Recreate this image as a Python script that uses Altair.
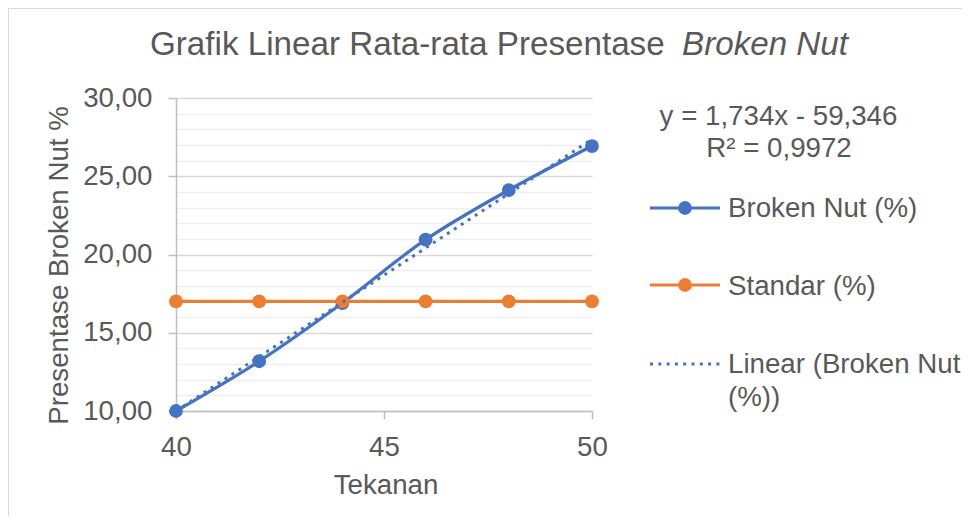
import altair as alt
import pandas as pd

# ---------------- data ----------------
tekanan = [40, 42, 44, 46, 48, 50]
broken_nut = [10.00, 13.18, 16.90, 20.95, 24.12, 26.93]
standar = [17.00, 17.00, 17.00, 17.00, 17.00, 17.00]
series_names = ["Broken Nut (%)", "Standar (%)", "Linear (Broken Nut", "(%))"]
x_ticks = [40, 45, 50]
y_ticks = list(range(10, 31))
title_main = "Grafik Linear Rata-rata Presentase"
title_italic = "Broken Nut"
x_title = "Tekanan"
y_title = "Presentase Broken Nut %"
eq_lines = ["y = 1,734x - 59,346", "R² = 0,9972"]

# ---------------- style ----------------
BLUE = "#4472C4"
ORANGE = "#ED7D31"
TEXT = "#595959"
FONT = "Liberation Sans"
W, H = 416, 313
OX, OY = 176, 98  # page position of plot origin
FS = 27.7
DOTS = [3, 5.3]

df = pd.DataFrame({
    "Tekanan": tekanan * 2,
    "Nilai": broken_nut + standar,
    "Seri": [series_names[0]] * len(tekanan) + [series_names[1]] * len(tekanan),
})
df_blue = df[df["Seri"] == series_names[0]]

x_scale = alt.Scale(domain=[40, 50], nice=False, zero=False)
y_scale = alt.Scale(domain=[10, 30], nice=False, zero=False)
c_scale = alt.Scale(domain=series_names[:2], range=[BLUE, ORANGE])

major = "datum.value % 5 === 0"

x_axis = alt.Axis(
    values=x_ticks, grid=False, title=x_title, labelFlush=False,
    labelFont=FONT, labelFontSize=FS, labelColor=TEXT,
    labelBaseline="alphabetic", labelPadding=36,
    tickSize=8, tickColor="#bfbfbf", tickWidth=1.5,
    domainColor="#bfbfbf", domainWidth=1.5,
    titleFont=FONT, titleFontSize=FS, titleColor=TEXT, titleFontWeight="normal",
    titleX=209.5, titleY=82, titleAlign="center", titleBaseline="alphabetic",
)
y_axis = alt.Axis(
    values=y_ticks, title=y_title, labelOverlap=False,
    labelExpr="datum.value % 5 === 0 ? replace(format(datum.value, '.2f'), '.', ',') : ''",
    labelFont=FONT, labelFontSize=FS, labelColor=TEXT, labelPadding=16,
    gridColor={"condition": {"test": major, "value": "#d9d9d9"}, "value": "#efefef"},
    gridWidth=1.5,
    tickSize=8, tickWidth=1.5,
    tickColor={"condition": {"test": major, "value": "#bfbfbf"}, "value": "transparent"},
    domainColor="#bfbfbf", domainWidth=1.5,
    titleFont=FONT, titleFontSize=FS, titleColor=TEXT, titleFontWeight="normal",
    titleAngle=-90, titleX=-109, titleY=167, titleAlign="center", titleBaseline="alphabetic",
)

X = alt.X("Tekanan:Q", scale=x_scale, axis=x_axis)
Y = alt.Y("Nilai:Q", scale=y_scale, axis=y_axis)
C = alt.Color("Seri:N", scale=c_scale, legend=None)

lines = alt.Chart(df).mark_line(strokeWidth=3.2, interpolate="catmull-rom").encode(
    x=X, y=Y, color=C, detail="Seri:N"
)
points = alt.Chart(df).mark_circle(size=190, opacity=1).encode(x=X, y=Y, color=C)
trend = alt.Chart(df_blue).transform_regression("Tekanan", "Nilai", method="linear").mark_line(
    color=BLUE, strokeWidth=3, strokeDash=DOTS
).encode(x=X, y=Y)


def txt(s, px, py, size=FS, align="left", style="normal"):
    return alt.Chart(pd.DataFrame({"t": [s]})).mark_text(
        align=align, baseline="alphabetic", fontSize=size, font=FONT,
        color=TEXT, fontStyle=style
    ).encode(x=alt.value(px - OX), y=alt.value(py - OY), text="t:N")


def hrule(x1, x2, py, color, width=3.2, dash=None):
    kw = dict(color=color, strokeWidth=width)
    if dash:
        kw["strokeDash"] = dash
    return alt.Chart(pd.DataFrame({"a": [0]})).mark_rule(**kw).encode(
        x=alt.value(x1 - OX), x2=alt.value(x2 - OX), y=alt.value(py - OY)
    )


def dot(px, py, color):
    return alt.Chart(pd.DataFrame({"a": [0]})).mark_circle(color=color, size=190, opacity=1).encode(
        x=alt.value(px - OX), y=alt.value(py - OY)
    )


border_top = alt.Chart(pd.DataFrame({"a": [0]})).mark_rule(color="#d9d9d9", strokeWidth=1).encode(
    x=alt.value(8.5 - OX), x2=alt.value(975 - OX), y=alt.value(8.5 - OY)
)
border_left = alt.Chart(pd.DataFrame({"a": [0]})).mark_rule(color="#d9d9d9", strokeWidth=1).encode(
    x=alt.value(8.5 - OX), y=alt.value(8.5 - OY), y2=alt.value(529 - OY)
)

decor = [
    border_top, border_left,
    txt(title_main, 150, 55, size=33.2),
    txt(title_italic, 682, 55, size=33.2, style="italic"),
    txt(eq_lines[0], 778.5, 125, align="center"),
    txt(eq_lines[1], 779, 157, align="center"),
    hrule(650, 720, 208, BLUE), dot(685, 208, BLUE),
    txt(series_names[0], 728, 217),
    hrule(650, 720, 285, ORANGE), dot(685, 285, ORANGE),
    txt(series_names[1], 728, 295),
    hrule(650, 720, 364, BLUE, width=3, dash=DOTS),
    txt(series_names[2], 728, 373),
    txt(series_names[3], 728, 406),
]

chart = alt.layer(
    lines, points, trend, *decor
).properties(
    width=W, height=H,
    autosize=alt.AutoSizeParams(type="none"),
    padding={"left": 168, "top": 90, "right": 370, "bottom": 105},
    background="white",
).configure_view(strokeWidth=0)

chart.save("out.html", embed_options={"renderer": "svg", "actions": False})
